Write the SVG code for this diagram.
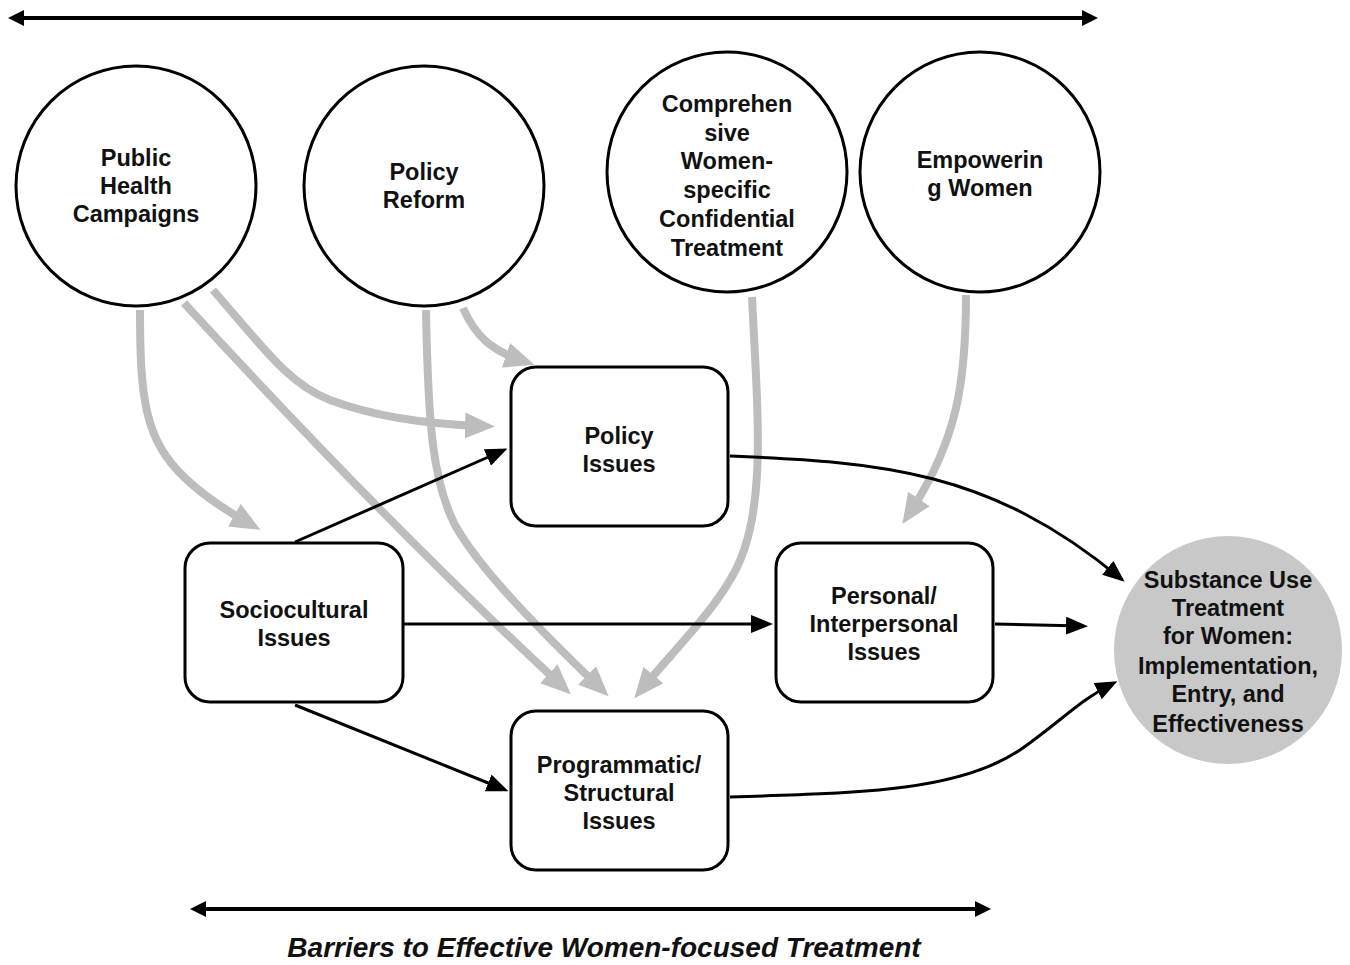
<svg xmlns="http://www.w3.org/2000/svg" width="1350" height="965" viewBox="0 0 1350 965">
<defs>
<style>
.node{fill:#fff;stroke:#000;stroke-width:3}
.out{fill:#c8c8c8;stroke:none}
.lbl{font-family:"Liberation Sans",Arial,sans-serif;font-weight:bold;font-size:23.5px;text-anchor:middle;fill:#111}
.gray{fill:none;stroke:#bdbdbd;stroke-width:8}
.blk{fill:none;stroke:#000;stroke-width:3}
.axis{fill:none;stroke:#000;stroke-width:4}
.cap{font-family:"Liberation Sans",Arial,sans-serif;font-weight:bold;font-style:italic;font-size:28px;text-anchor:middle;fill:#111}
</style>
<marker id="ag" markerUnits="userSpaceOnUse" markerWidth="30" markerHeight="26" refX="18" refY="13" orient="auto"><path d="M0,0 L30,13 L0,26 z" fill="#bdbdbd"/></marker>
<marker id="ab" markerUnits="userSpaceOnUse" markerWidth="22" markerHeight="18" refX="16" refY="9" orient="auto"><path d="M0,0 L22,9 L0,18 z" fill="#000"/></marker>
<marker id="ax" markerUnits="userSpaceOnUse" markerWidth="16" markerHeight="16" refX="12" refY="8" orient="auto-start-reverse"><path d="M0,0 L16,8 L0,16 z" fill="#000"/></marker>
</defs>
<rect width="1350" height="965" fill="#fff"/>

<g id="axes">
<line class="axis" x1="12" y1="18" x2="1094" y2="18" marker-start="url(#ax)" marker-end="url(#ax)"/>
<line class="axis" x1="194" y1="909" x2="987" y2="909" marker-start="url(#ax)" marker-end="url(#ax)"/>
<text class="cap" x="604" y="957">Barriers to Effective Women-focused Treatment</text>
</g>

<g id="connectors">
<path class="gray" d="M140,310 C140,400 145,440 185,478 C205,497 225,510 250,524" marker-end="url(#ag)"/>
<path class="gray" d="M184,303 Q388,525 562,686" marker-end="url(#ag)"/>
<path class="gray" d="M213,290 C265,350 290,385 330,400 C370,415 420,424 483,426" marker-end="url(#ag)"/>
<path class="gray" d="M426,310 C428,420 432,480 455,525 C480,570 540,630 600,688" marker-end="url(#ag)"/>
<path class="gray" d="M463,308 C475,335 490,350 523,361" marker-end="url(#ag)"/>
<path class="gray" d="M752,297 C758,420 768,520 730,580 C710,615 670,655 642,689" marker-end="url(#ag)"/>
<path class="gray" d="M966,295 C966,380 958,440 909,514" marker-end="url(#ag)"/>
<path class="blk" d="M295,542 L502,451" marker-end="url(#ab)"/>
<path class="blk" d="M403,624 L767,624" marker-end="url(#ab)"/>
<path class="blk" d="M295,705 L503,789" marker-end="url(#ab)"/>
<path class="blk" d="M730,456 C880,462 990,470 1120,578" marker-end="url(#ab)"/>
<path class="blk" d="M995,624 L1082,626" marker-end="url(#ab)"/>
<path class="blk" d="M730,797 C870,793 960,790 1020,750 C1060,722 1080,700 1112,684" marker-end="url(#ab)"/>
</g>

<g id="public-health"><circle class="node" cx="136" cy="186" r="120"/>
<text class="lbl" x="136" y="166">Public</text><text class="lbl" x="136" y="194">Health</text><text class="lbl" x="136" y="222">Campaigns</text></g>

<g id="policy-reform"><circle class="node" cx="424" cy="186" r="120"/>
<text class="lbl" x="424" y="180">Policy</text><text class="lbl" x="424" y="208">Reform</text></g>

<g id="comprehensive"><circle class="node" cx="727" cy="172" r="120"/>
<text class="lbl" x="727" y="112">Comprehen</text><text class="lbl" x="727" y="141">sive</text><text class="lbl" x="727" y="169">Women-</text><text class="lbl" x="727" y="198">specific</text><text class="lbl" x="727" y="227">Confidential</text><text class="lbl" x="727" y="256">Treatment</text></g>

<g id="empowering"><circle class="node" cx="980" cy="172" r="120"/>
<text class="lbl" x="980" y="168">Empowerin</text><text class="lbl" x="980" y="196">g Women</text></g>

<g id="policy-issues"><rect class="node" x="511" y="367" width="217" height="159" rx="25"/>
<text class="lbl" x="619" y="444">Policy</text><text class="lbl" x="619" y="472">Issues</text></g>

<g id="sociocultural"><rect class="node" x="185" y="543" width="218" height="159" rx="25"/>
<text class="lbl" x="294" y="618">Sociocultural</text><text class="lbl" x="294" y="646">Issues</text></g>

<g id="personal"><rect class="node" x="776" y="543" width="217" height="159" rx="25"/>
<text class="lbl" x="884" y="604">Personal/</text><text class="lbl" x="884" y="632">Interpersonal</text><text class="lbl" x="884" y="660">Issues</text></g>

<g id="programmatic"><rect class="node" x="511" y="711" width="217" height="159" rx="25"/>
<text class="lbl" x="619" y="773">Programmatic/</text><text class="lbl" x="619" y="801">Structural</text><text class="lbl" x="619" y="829">Issues</text></g>

<g id="outcome"><circle class="out" cx="1228" cy="650" r="114"/>
<text class="lbl" x="1228" y="588">Substance Use</text><text class="lbl" x="1228" y="616">Treatment</text><text class="lbl" x="1228" y="644">for Women:</text><text class="lbl" x="1228" y="674">Implementation,</text><text class="lbl" x="1228" y="702">Entry, and</text><text class="lbl" x="1228" y="732">Effectiveness</text></g>
</svg>
